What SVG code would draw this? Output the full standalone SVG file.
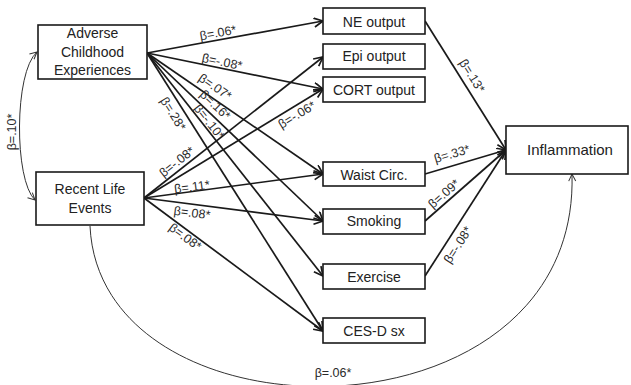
<svg xmlns="http://www.w3.org/2000/svg" width="631" height="385" viewBox="0 0 631 385">
<defs>
<style>
.box{fill:#fff;stroke:#1a1a1a;stroke-width:1.6}
.nt{font-family:"Liberation Sans",Arial,sans-serif;font-size:14px;fill:#222;text-anchor:middle}
.big{font-size:15px}
.e{fill:none;stroke:#1a1a1a;stroke-width:1.7}
.c{fill:none;stroke:#333;stroke-width:1}
.lb{font-family:"Liberation Sans",Arial,sans-serif;font-size:12.5px;fill:#2a2a2a;text-anchor:middle}
</style>
<marker id="ah" markerUnits="userSpaceOnUse" markerWidth="12" markerHeight="12" refX="10" refY="5" orient="auto">
<path d="M1,0.5 L10,5 L1,9.5" fill="none" stroke="#1a1a1a" stroke-width="1.7"/>
</marker>
<marker id="ahs" markerUnits="userSpaceOnUse" markerWidth="10" markerHeight="10" refX="8" refY="4" orient="auto-start-reverse">
<path d="M1,0.5 L8,4 L1,7.5" fill="none" stroke="#333" stroke-width="1"/>
</marker>
</defs>
<rect width="631" height="385" fill="#fff"/>

<g id="connectors">
<path class="e" marker-end="url(#ah)" d="M147,53 L323,21"/>
<path class="e" marker-end="url(#ah)" d="M147,53 L323,89"/>
<path class="e" marker-end="url(#ah)" d="M147,53 L323,174"/>
<path class="e" marker-end="url(#ah)" d="M147,53 L323,221"/>
<path class="e" marker-end="url(#ah)" d="M147,53 L323,276"/>
<path class="e" marker-end="url(#ah)" d="M147,53 L323,331"/>
<path class="e" marker-end="url(#ah)" d="M144,198 L323,57"/>
<path class="e" marker-end="url(#ah)" d="M144,198 L323,89"/>
<path class="e" marker-end="url(#ah)" d="M144,198 L323,174"/>
<path class="e" marker-end="url(#ah)" d="M144,198 L323,221"/>
<path class="e" marker-end="url(#ah)" d="M144,198 L323,331"/>
<path class="e" marker-end="url(#ah)" d="M425,21 L506,150"/>
<path class="e" marker-end="url(#ah)" d="M425,174 L506,150"/>
<path class="e" marker-end="url(#ah)" d="M425,221 L506,150"/>
<path class="e" marker-end="url(#ah)" d="M425,276 L506,150"/>
<path class="c" marker-end="url(#ahs)" d="M90,226 C100,448 580,448 572,174"/>
<path class="c" marker-start="url(#ahs)" marker-end="url(#ahs)" d="M37,52 C14,72 14,180 35,200"/>

<text class="lb" transform="translate(218,33) rotate(-10)" y="4">β=.06*</text>
<text class="lb" transform="translate(222,62) rotate(11.6)" y="4">β=-.08*</text>
<text class="lb" transform="translate(215,87) rotate(34.5)" y="4">β=.07*</text>
<text class="lb" transform="translate(215,105) rotate(43.7)" y="4">β=.16*</text>
<text class="lb" transform="translate(209,122) rotate(51.7)" y="4">β=-.10*</text>
<text class="lb" transform="translate(173,114) rotate(57.7)" y="4">β=.28*</text>
<text class="lb" transform="translate(177,162) rotate(-38.2)" y="4">β=-.08*</text>
<text class="lb" transform="translate(297,115) rotate(-31.3)" y="4">β=-.06*</text>
<text class="lb" transform="translate(192,187) rotate(-7.6)" y="4">β=.11*</text>
<text class="lb" transform="translate(192,213) rotate(7.3)" y="4">β=.08*</text>
<text class="lb" transform="translate(185,237) rotate(36.6)" y="4">β=.08*</text>
<text class="lb" transform="translate(472,76) rotate(57.9)" y="4">β=.13*</text>
<text class="lb" transform="translate(452,154) rotate(-16.5)" y="4">β=.33*</text>
<text class="lb" transform="translate(444,194) rotate(-41.2)" y="4">β=.09*</text>
<text class="lb" transform="translate(458,245) rotate(-57.3)" y="4">β=-.08*</text>
<text class="lb" transform="translate(333,373)" y="4">β=.06*</text>
<text class="lb" transform="translate(12,132) rotate(-90)" y="4">β=.10*</text>
</g>

<g id="ace">
<rect class="box" x="38" y="25" width="109" height="54"/>
<text class="nt" x="92.5" y="38">Adverse</text>
<text class="nt" x="92.5" y="57">Childhood</text>
<text class="nt" x="92.5" y="75">Experiences</text>
</g>
<g id="rle">
<rect class="box" x="36" y="172" width="108" height="53"/>
<text class="nt" x="90" y="194">Recent Life</text>
<text class="nt" x="90" y="213">Events</text>
</g>
<g id="ne">
<rect class="box" x="323" y="8" width="102" height="26"/>
<text class="nt" x="374" y="27">NE output</text>
</g>
<g id="epi">
<rect class="box" x="323" y="44" width="102" height="25"/>
<text class="nt" x="374" y="61">Epi output</text>
</g>
<g id="cort">
<rect class="box" x="323" y="77" width="102" height="25"/>
<text class="nt" x="374" y="94.5">CORT output</text>
</g>
<g id="waist">
<rect class="box" x="323" y="162" width="102" height="24"/>
<text class="nt" x="374" y="179.5">Waist Circ.</text>
</g>
<g id="smoking">
<rect class="box" x="323" y="209" width="102" height="25"/>
<text class="nt" x="374" y="226">Smoking</text>
</g>
<g id="exercise">
<rect class="box" x="323" y="264" width="102" height="25"/>
<text class="nt" x="374" y="281.5">Exercise</text>
</g>
<g id="cesd">
<rect class="box" x="323" y="318" width="102" height="25"/>
<text class="nt" x="374" y="335.5">CES-D sx</text>
</g>
<g id="inflammation">
<rect class="box" x="506" y="126" width="122" height="48"/>
<text class="nt big" x="570" y="155">Inflammation</text>
</g>
</svg>
